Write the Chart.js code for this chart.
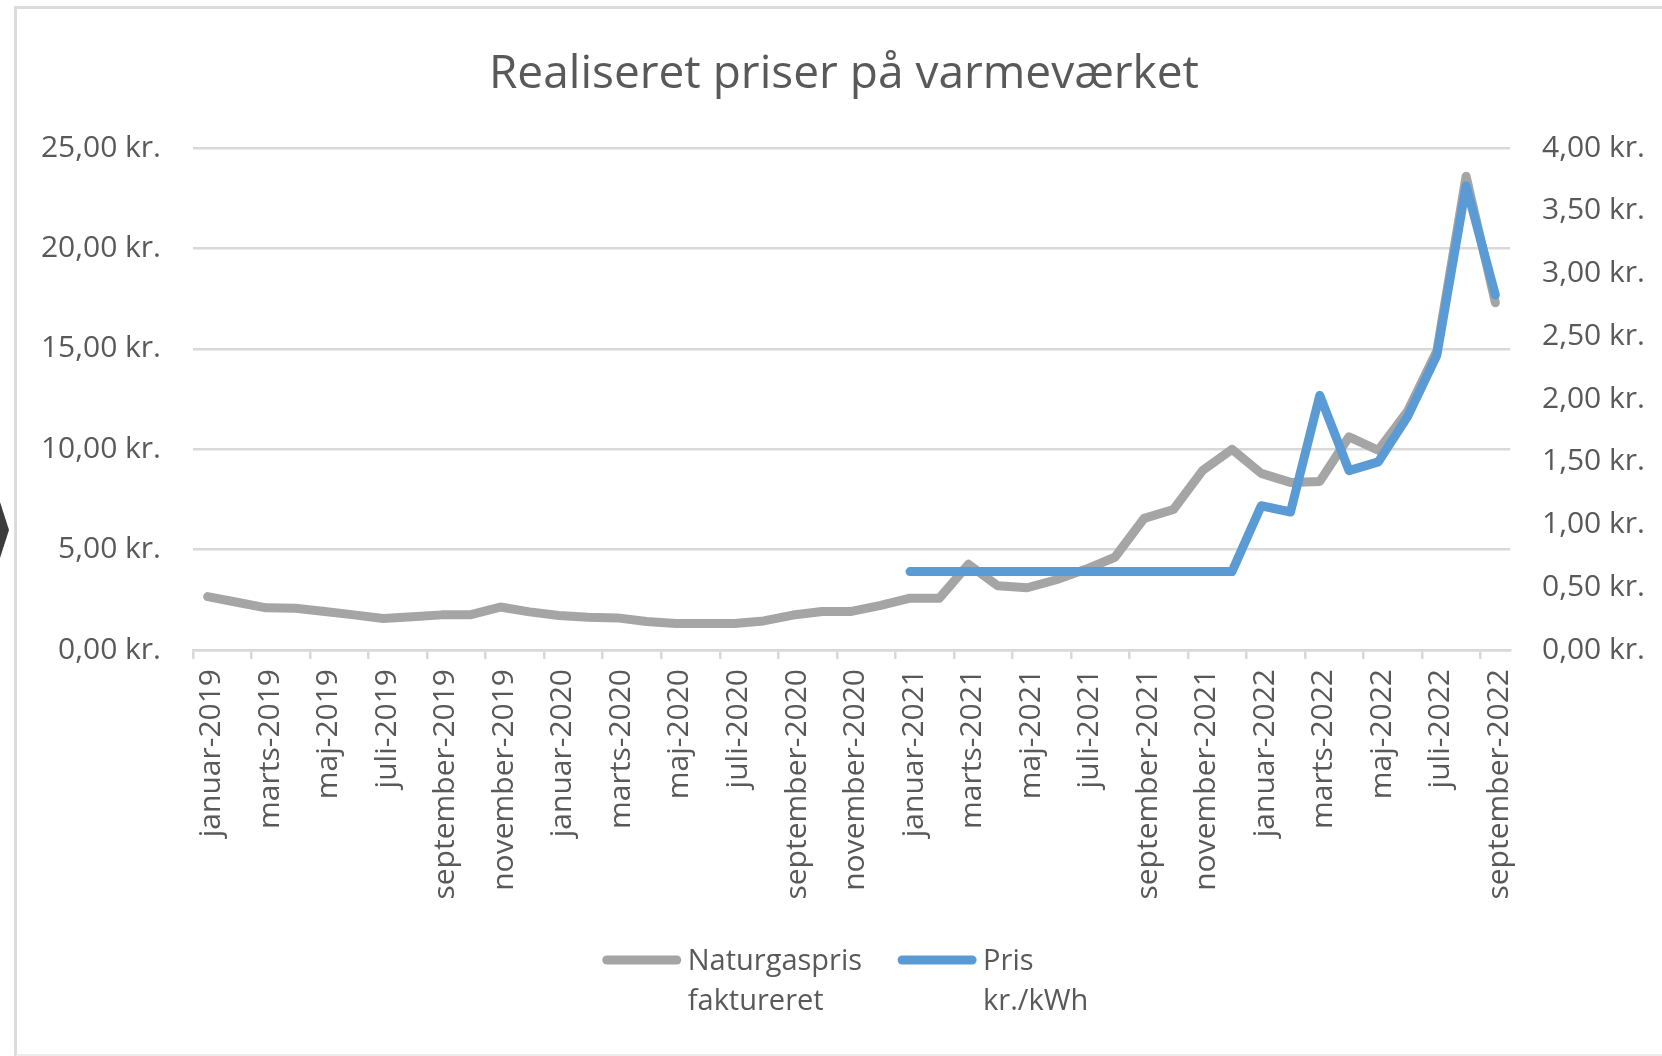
<!DOCTYPE html>
<html lang="da">
<head>
<meta charset="utf-8">
<title>Realiseret priser på varmeværket</title>
<script src="https://cdn.jsdelivr.net/npm/chart.js@4.4.1/dist/chart.umd.min.js"></script>
<style>
    html, body {
        margin: 0;
        padding: 0;
        background: #ffffff;
    }

    #wrap {
        position: relative;
        width: 1662px;
        height: 1056px;
        overflow: hidden;
    }

    /* ramme om diagramområdet */
    .ramme {
        position: absolute;
        left: 14px;
        top: 6px;
        width: 1700px;
        height: 1045px;
        border-left: 3px solid #dcdcdc;
        border-top: 3px solid #dcdcdc;
        border-bottom: 3px solid #ececec;
        pointer-events: none;
    }

    /* lille mørk pil i venstre kant */
    .pil {
        position: absolute;
        left: 0;
        top: 502px;
        width: 9px;
        height: 56px;
        background: #3c3c3c;
        clip-path: polygon(0 0, 100% 50%, 0 100%);
    }
</style>
</head>
<body>

<div id="wrap">
    <canvas id="prisChart"></canvas>
    <div class="ramme"></div>
    <div class="pil"></div>
</div>

<script>

// ======================================
// DATA
// ======================================

const maaneder = [
    "januar-2019", "februar-2019", "marts-2019", "april-2019", "maj-2019", "juni-2019",
    "juli-2019", "august-2019", "september-2019", "oktober-2019", "november-2019", "december-2019",
    "januar-2020", "februar-2020", "marts-2020", "april-2020", "maj-2020", "juni-2020",
    "juli-2020", "august-2020", "september-2020", "oktober-2020", "november-2020", "december-2020",
    "januar-2021", "februar-2021", "marts-2021", "april-2021", "maj-2021", "juni-2021",
    "juli-2021", "august-2021", "september-2021", "oktober-2021", "november-2021", "december-2021",
    "januar-2022", "februar-2022", "marts-2022", "april-2022", "maj-2022", "juni-2022",
    "juli-2022", "august-2022", "september-2022"
];

// venstre akse (kr.)
const naturgaspris = [
    2.66, 2.38, 2.10, 2.08, 1.92, 1.75, 1.57, 1.66, 1.75, 1.76, 2.14, 1.90,
    1.72, 1.63, 1.60, 1.42, 1.32, 1.32, 1.32, 1.45, 1.74, 1.92, 1.92, 2.22,
    2.58, 2.58, 4.27, 3.20, 3.10, 3.50, 4.02, 4.62, 6.56, 7.00, 8.95, 10.00,
    8.80, 8.35, 8.40, 10.62, 9.95, 11.90, 14.90, 23.60, 17.30
];

// højre akse (kr./kWh)
const prisKwh = [
    null, null, null, null, null, null, null, null, null, null, null, null,
    null, null, null, null, null, null, null, null, null, null, null, null,
    0.625, 0.625, 0.625, 0.625, 0.625, 0.625, 0.625, 0.625, 0.625, 0.625, 0.625, 0.625,
    1.15, 1.10, 2.03, 1.43, 1.50, 1.86, 2.35, 3.70, 2.83
];

const venstreTicks = [0, 5, 10, 15, 20, 25];
const hoejreTicks = [0, 0.5, 1, 1.5, 2, 2.5, 3, 3.5, 4];

const serieNavne = ["Naturgaspris faktureret", "Pris kr./kWh"];
const legendLinjer = [["Naturgaspris", "faktureret"], ["Pris", "kr./kWh"]];

const titel = "Realiseret priser på varmeværket";


// ======================================
// HJÆLPERE
// ======================================

const GRAA_TEKST = "#595959";
const GITTER = "#d9d9d9";
const SKRIFT = "'Open Sans', 'Liberation Sans', sans-serif";

function kroner(v) {
    return v.toFixed(2).replace(".", ",") + " kr.";
}

Chart.defaults.font.family = SKRIFT;
Chart.defaults.color = GRAA_TEKST;


// ======================================
// LEGEND (to linjer pr. serie)
// ======================================

const egenLegend = {

    id: "egenLegend",

    afterDraw(chart) {

        const { ctx, chartArea } = chart;
        const proeveLaengde = 70;
        const tekstStart = 81;
        const mellemrum = 40;
        const linjeAfstand = 40;

        ctx.save();
        ctx.font = "29px " + SKRIFT;

        const bredder = chart.data.datasets.map((ds, i) => {
            const tekstBredde = Math.max(...legendLinjer[i].map(t => ctx.measureText(t).width));
            return tekstStart + tekstBredde;
        });

        const samlet = bredder.reduce((a, b) => a + b, 0) + mellemrum * (bredder.length - 1);
        let x = (chartArea.left + chartArea.right) / 2 - samlet / 2 - 4;
        const yLinje = chartArea.bottom + 310;

        chart.data.datasets.forEach((ds, i) => {

            ctx.beginPath();
            ctx.lineWidth = ds.borderWidth;
            ctx.lineCap = "round";
            ctx.strokeStyle = ds.borderColor;
            ctx.moveTo(x, yLinje);
            ctx.lineTo(x + proeveLaengde, yLinje);
            ctx.stroke();

            ctx.fillStyle = GRAA_TEKST;
            ctx.textAlign = "left";
            ctx.textBaseline = "alphabetic";

            legendLinjer[i].forEach((linje, n) => {
                ctx.fillText(linje, x + tekstStart, yLinje + 10 + n * linjeAfstand);
            });

            x += bredder[i] + mellemrum;

        });

        ctx.restore();

    }

};


// ======================================
// GRAF
// ======================================

const canvas = document.getElementById("prisChart");

new Chart(canvas, {

    type: "line",

    data: {

        labels: maaneder,

        datasets: [
            {
                label: serieNavne[0],
                data: naturgaspris,
                yAxisID: "y",
                borderColor: "#a5a5a5",
                backgroundColor: "#a5a5a5",
                borderWidth: 9,
                borderCapStyle: "round",
                borderJoinStyle: "round",
                pointRadius: 0,
                tension: 0,
                order: 1
            },
            {
                label: serieNavne[1],
                data: prisKwh,
                yAxisID: "y1",
                borderColor: "#5b9bd5",
                backgroundColor: "#5b9bd5",
                borderWidth: 9,
                borderCapStyle: "round",
                borderJoinStyle: "round",
                pointRadius: 0,
                tension: 0,
                order: 0
            }
        ]

    },

    options: {

        responsive: true,
        maintainAspectRatio: false,
        animation: false,

        layout: {
            padding: { left: 34, right: 8, top: 0, bottom: 152 }
        },

        plugins: {

            title: {
                display: true,
                text: titel,
                color: GRAA_TEKST,
                font: { size: 46, weight: "normal", lineHeight: 1.2 },
                padding: { top: 47, bottom: 46 }
            },

            legend: { display: false },

            tooltip: { enabled: false }

        },

        scales: {

            x: {
                offset: true,
                grid: {
                    offset: true,
                    drawOnChartArea: false,
                    tickLength: 9,
                    lineWidth: 2.5,
                    color: GITTER,
                    tickColor: (ctx) => (ctx.index !== undefined && ctx.index % 2 === 0) ? GITTER : "rgba(0,0,0,0)"
                },
                border: { display: true, color: GITTER, width: 2.5 },
                ticks: {
                    autoSkip: false,
                    maxRotation: 90,
                    minRotation: 90,
                    padding: 10,
                    labelOffset: 4,
                    color: GRAA_TEKST,
                    font: { size: 30 },
                    callback: function (value, index) {
                        return index % 2 === 0 ? this.getLabelForValue(value) : "";
                    }
                },
                afterFit: (scale) => { scale.height = 254; }
            },

            y: {
                position: "left",
                min: 0,
                max: 25,
                afterBuildTicks: (scale) => { scale.ticks = venstreTicks.map(v => ({ value: v })); },
                grid: {
                    color: GITTER,
                    lineWidth: 2.5,
                    drawTicks: false
                },
                border: { display: false },
                ticks: {
                    padding: 32,
                    color: GRAA_TEKST,
                    font: { size: 30 },
                    callback: (v) => kroner(v)
                },
                afterFit: (scale) => { scale.width = 159; }
            },

            y1: {
                position: "right",
                min: 0,
                max: 4,
                afterBuildTicks: (scale) => { scale.ticks = hoejreTicks.map(v => ({ value: v })); },
                grid: {
                    drawOnChartArea: false,
                    drawTicks: false
                },
                border: { display: false },
                ticks: {
                    padding: 32,
                    color: GRAA_TEKST,
                    font: { size: 30 },
                    callback: (v) => kroner(v)
                },
                afterFit: (scale) => { scale.width = 144; }
            }

        }

    },

    plugins: [egenLegend]

});

</script>
</body>
</html>
